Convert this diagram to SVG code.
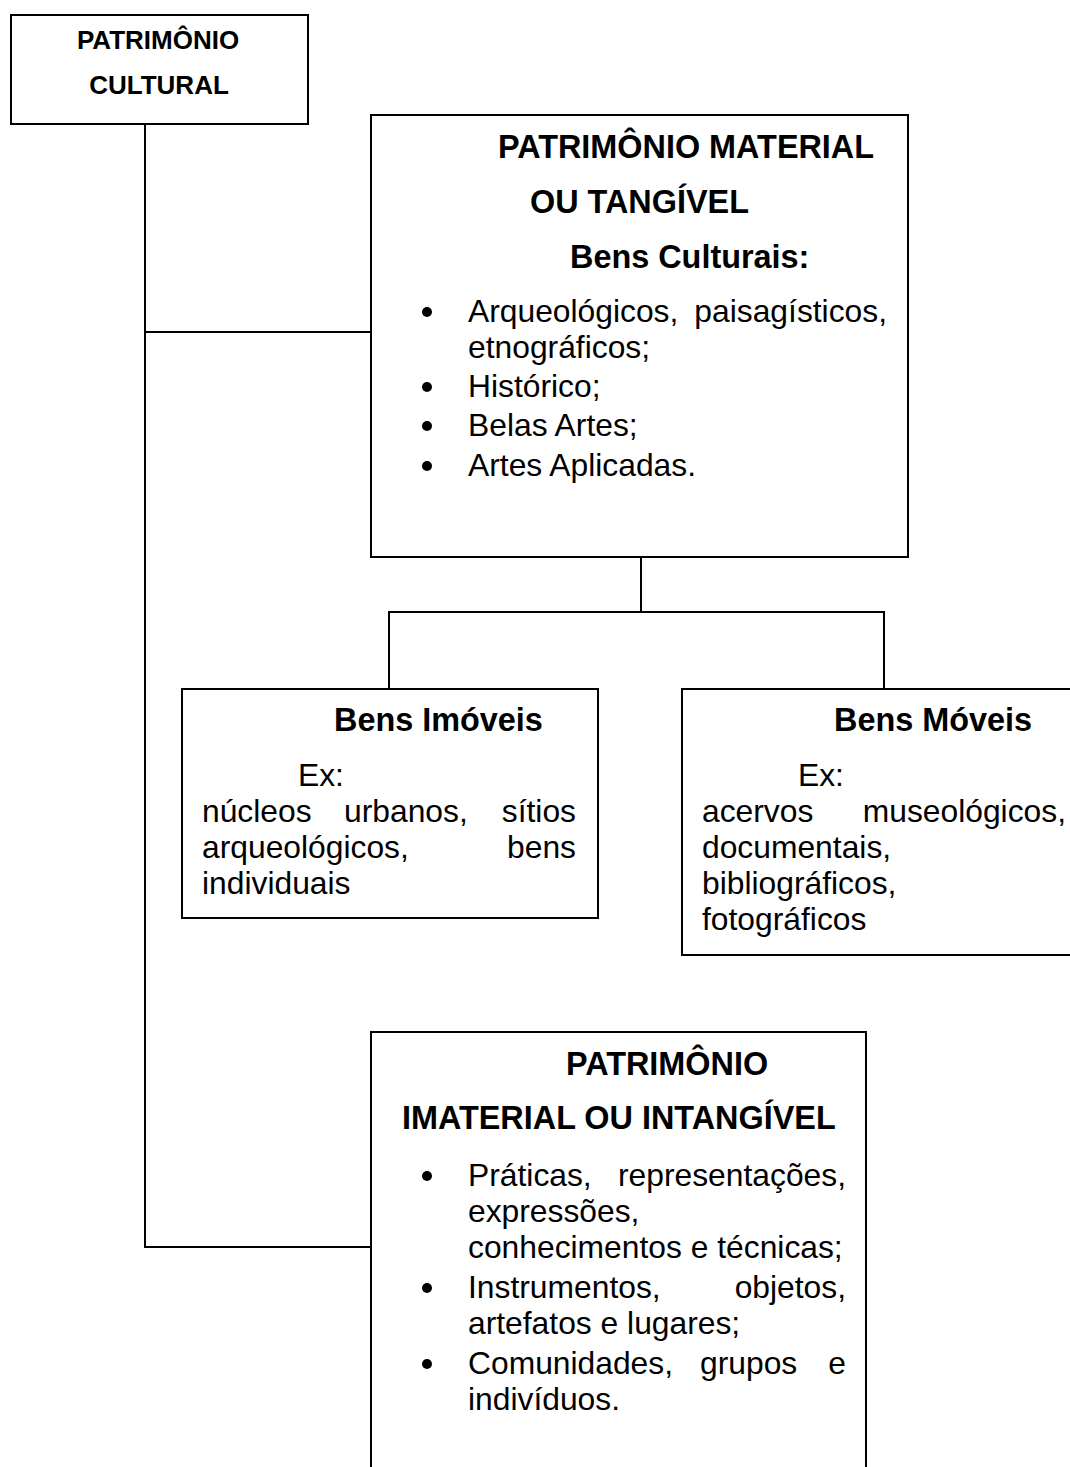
<svg xmlns="http://www.w3.org/2000/svg" width="1070" height="1467" viewBox="0 0 1070 1467">
<style>
  .box { fill: #fff; stroke: #000; stroke-width: 2; }
  .conn { fill: none; stroke: #000; stroke-width: 2; }
  text { font-family: "Liberation Sans", Arial, sans-serif; fill: #000; font-size: 31.8px; }
  .b { font-weight: bold; font-size: 32.4px; }
  .sm { font-size: 26px; font-weight: bold; }
  .dot { fill: #000; }
</style>
<rect width="1070" height="1467" fill="#fff"/>
<g id="connectors">
  <path class="conn" d="M145,124 V1247 H371"/>
  <path class="conn" d="M145,332 H371"/>
  <path class="conn" d="M641,557 V612"/>
  <path class="conn" d="M389,689 V612 H884 V689"/>
</g>
<g id="cultural">
  <rect class="box" x="11" y="15" width="297" height="109"/>
  <text class="sm" x="158" y="49" text-anchor="middle">PATRIMÔNIO</text>
  <text class="sm" x="159" y="94" text-anchor="middle">CULTURAL</text>
</g>
<g id="material">
  <rect class="box" x="371" y="115" width="537" height="442"/>
  <text class="b" x="498" y="158">PATRIMÔNIO MATERIAL</text>
  <text class="b" x="530" y="213">OU TANGÍVEL</text>
  <text class="b" x="570" y="268">Bens Culturais:</text>
  <circle class="dot" cx="427" cy="312" r="5"/>
  <text x="468" y="322">Arqueológicos,</text>
  <text x="887" y="322" text-anchor="end">paisagísticos,</text>
  <text x="468" y="358">etnográficos;</text>
  <circle class="dot" cx="427" cy="387" r="5"/>
  <text x="468" y="397">Histórico;</text>
  <circle class="dot" cx="427" cy="426" r="5"/>
  <text x="468" y="436">Belas Artes;</text>
  <circle class="dot" cx="427" cy="466" r="5"/>
  <text x="468" y="476">Artes Aplicadas.</text>
</g>
<g id="imoveis">
  <rect class="box" x="182" y="689" width="416" height="229"/>
  <text class="b" x="334" y="731">Bens Imóveis</text>
  <text x="298" y="786">Ex:</text>
  <text x="202" y="822">núcleos</text>
  <text x="344" y="822">urbanos,</text>
  <text x="576" y="822" text-anchor="end">sítios</text>
  <text x="202" y="858">arqueológicos,</text>
  <text x="576" y="858" text-anchor="end">bens</text>
  <text x="202" y="894">individuais</text>
</g>
<g id="moveis">
  <rect class="box" x="682" y="689" width="400" height="266"/>
  <text class="b" x="834" y="731">Bens Móveis</text>
  <text x="798" y="786">Ex:</text>
  <text x="702" y="822">acervos</text>
  <text x="1066" y="822" text-anchor="end">museológicos,</text>
  <text x="702" y="858">documentais,</text>
  <text x="702" y="894">bibliográficos,</text>
  <text x="702" y="930">fotográficos</text>
</g>
<g id="imaterial">
  <rect class="box" x="371" y="1032" width="495" height="460"/>
  <text class="b" x="566" y="1075">PATRIMÔNIO</text>
  <text class="b" x="402" y="1129">IMATERIAL OU INTANGÍVEL</text>
  <circle class="dot" cx="427" cy="1176" r="5"/>
  <text x="468" y="1186">Práticas,</text>
  <text x="846" y="1186" text-anchor="end">representações,</text>
  <text x="468" y="1222">expressões,</text>
  <text x="468" y="1258">conhecimentos e técnicas;</text>
  <circle class="dot" cx="427" cy="1288" r="5"/>
  <text x="468" y="1298">Instrumentos,</text>
  <text x="846" y="1298" text-anchor="end">objetos,</text>
  <text x="468" y="1334">artefatos e lugares;</text>
  <circle class="dot" cx="427" cy="1364" r="5"/>
  <text x="468" y="1374">Comunidades,</text>
  <text x="700" y="1374">grupos</text>
  <text x="846" y="1374" text-anchor="end">e</text>
  <text x="468" y="1410">indivíduos.</text>
</g>
</svg>
